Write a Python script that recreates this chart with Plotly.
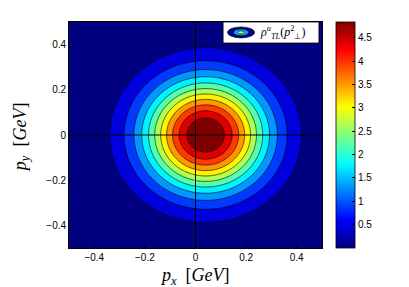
import numpy as np
import plotly.graph_objects as go

# ---- axes / ticks ----
px_range = [-0.5, 0.5]
py_range = [-0.5, 0.5]
axis_ticks = [-0.4, -0.2, 0, 0.2, 0.4]
cbar_ticks = [0.5, 1, 1.5, 2, 2.5, 3, 3.5, 4, 4.5]
level_start = 0.4
level_end = 4.4
level_step = 0.4

# ---- distribution parameters ----
peak_value = 4.84
z_floor = 0.0
center_px = 0.04
center_py = 0.0
width_px = 0.24
width_py = 0.245

px = np.linspace(px_range[0], px_range[1], 241)
py = np.linspace(py_range[0], py_range[1], 241)
PX, PY = np.meshgrid(px, py)
Z = peak_value * np.exp(-((PX - center_px) / width_px) ** 2 - ((PY - center_py) / width_py) ** 2)

jet = [[0, 'rgb(0,0,128)'], [0.125, 'rgb(0,0,255)'], [0.375, 'rgb(0,255,255)'],
       [0.625, 'rgb(255,255,0)'], [0.875, 'rgb(255,0,0)'], [1, 'rgb(128,0,0)']]

sans = 'Liberation Sans, Arial, sans-serif'
serif = 'Liberation Serif, Times New Roman, serif'

fig = go.Figure()
fig.add_trace(go.Contour(
    x=px, y=py, z=Z, colorscale=jet,
    contours=dict(start=level_start, end=level_end, size=level_step, coloring='fill'),
    line=dict(color='black', width=0.6), showscale=False, showlegend=False,
    hoverinfo='skip'))

fig.add_trace(go.Scatter(
    x=[center_px, center_px], y=[center_py, center_py], mode='markers',
    marker=dict(color=[z_floor, peak_value], colorscale=jet, cmin=z_floor, cmax=peak_value,
                size=1, opacity=0, showscale=True,
                colorbar=dict(x=1.055, xanchor='left', y=0.5, yanchor='middle',
                              len=1.0, lenmode='fraction', thickness=19, thicknessmode='pixels',
                              outlinecolor='black', outlinewidth=0.8,
                              tickvals=cbar_ticks, ticks='inside', ticklen=3, tickcolor='black',
                              tickfont=dict(family=sans, size=10, color='black'),
                              xpad=0, ypad=0)),
    showlegend=False, hoverinfo='skip'))

axis_common = dict(tickvals=axis_ticks, ticks='inside', ticklen=3, tickcolor='black',
                   showline=True, mirror=True, linecolor='black', linewidth=0.8,
                   showgrid=False, zeroline=False,
                   tickfont=dict(family=sans, size=10, color='black'))

fig.update_layout(
    width=409, height=287,
    margin=dict(l=69, r=87, t=22, b=39),
    plot_bgcolor='white', paper_bgcolor='white',
    xaxis=dict(range=px_range, **axis_common),
    yaxis=dict(range=py_range, **axis_common),
    showlegend=False,
)

# zero lines above the filled contours
fig.add_shape(type='line', xref='x', yref='paper', x0=0, x1=0, y0=0, y1=1,
              line=dict(color='black', width=1), layer='above')
fig.add_shape(type='line', xref='paper', yref='y', x0=0, x1=1, y0=0, y1=0,
              line=dict(color='black', width=1), layer='above')

# legend box
fig.add_shape(type='rect', xref='paper', yref='paper', x0=0.609, x1=0.988, y0=0.907, y1=1.0,
              fillcolor='white', line=dict(color='black', width=0.8), layer='above')
cx, cy = 0.680, 0.954
for hw, hh, col in [(0.0534, 0.0243, 'rgb(0,0,140)'), (0.030, 0.0150, 'rgb(0,170,255)'),
                    (0.013, 0.0070, 'rgb(170,255,90)')]:
    fig.add_shape(type='circle', xref='paper', yref='paper', x0=cx - hw, x1=cx + hw,
                  y0=cy - hh, y1=cy + hh, fillcolor=col,
                  line=dict(color='black', width=0.6), layer='above')
fig.add_annotation(xref='paper', yref='paper', x=0.748, y=0.954, xanchor='left', yanchor='middle',
                   text='<i>ρ</i><sup><i>u</i></sup><sub><i>TL</i></sub>(<i>p</i><sup>2</sup><sub>⊥</sub>)',
                   showarrow=False, font=dict(family=serif, size=12, color='black'))

# axis titles
fig.add_annotation(xref='paper', yref='paper', x=0.498, y=-0.125, xanchor='center', yanchor='middle',
                   text='<i>p<sub>x</sub></i>&nbsp;&nbsp;[<i>GeV</i>]', showarrow=False,
                   font=dict(family=serif, size=18, color='black'))
fig.add_annotation(xref='paper', yref='paper', x=-0.19, y=0.49, xanchor='center', yanchor='middle',
                   text='<i>p<sub>y</sub></i>&nbsp;&nbsp;[<i>GeV</i>]', showarrow=False, textangle=-90,
                   font=dict(family=serif, size=18, color='black'))

fig.write_html('out.html', post_script="document.body.style.margin='0';",
               config={'displayModeBar': False})
